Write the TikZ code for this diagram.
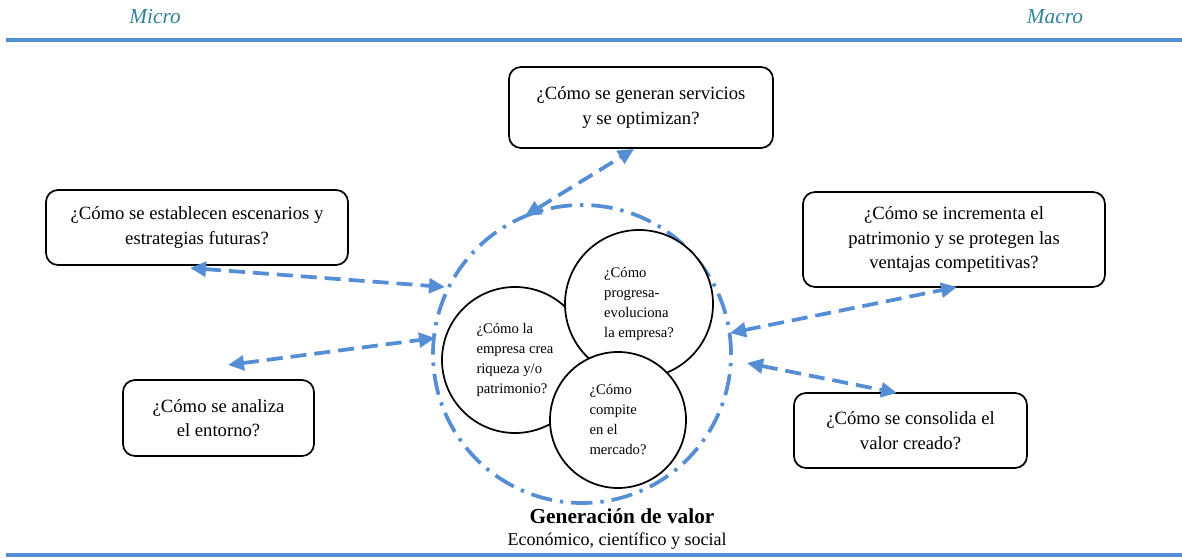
\documentclass[tikz,border=0pt]{standalone}
\usepackage{fontspec}
\setmainfont{Liberation Serif}
\usetikzlibrary{arrows.meta}
\definecolor{lineblue}{RGB}{85,142,213}
\definecolor{microteal}{RGB}{49,132,155}
\begin{document}
\begin{tikzpicture}[x=0.75pt,y=-0.75pt,
  qbox/.style={draw,line width=1.3pt,rounded corners=9pt,align=center,
    font=\fontsize{14}{18.5}\selectfont,inner sep=0pt},
  qcirc/.style={draw,circle,fill=white,line width=1.3pt,align=left,
    font=\fontsize{11}{15}\selectfont,inner sep=0pt},
  conn/.style={draw=lineblue,line width=2.8pt,dash pattern=on 12pt off 6pt,
    {Triangle[length=12pt,width=11pt]}-{Triangle[length=12pt,width=11pt]}},
  rule/.style={draw=lineblue,line width=2.6pt},
  scale label/.style={text=microteal,font=\fontsize{16}{19}\selectfont\itshape}]
\useasboundingbox (0,0) rectangle (1182,559);

% header
\node[scale label] (micro) at (155,17) {Micro};
\node[scale label] (macro) at (1055,17) {Macro};
\coordinate (tl) at (6,40);
\coordinate (tr) at (1182,40);
\draw[rule] (tl) -- (tr);
\coordinate (bl) at (6,555);
\coordinate (br) at (1182,555);
\draw[rule] (bl) -- (br);

% outer dash-dot circle
\node[draw=lineblue,circle,line width=2.8pt,minimum size=223.5pt,
  dash pattern=on 16pt off 6pt on 2.5pt off 6pt] (outer) at (582,354) {};

% inner circles
\node[qcirc,minimum size=109.5pt] (c1) at (515,360)
  {¿Cómo la\\empresa crea\\riqueza y/o\\patrimonio?};
\node[qcirc,minimum size=111pt] (c2) at (639,304)
  {¿Cómo\\progresa-\\evoluciona\\la empresa?};
\node[qcirc,minimum size=102pt] (c3) at (618,420)
  {¿Cómo\\compite\\en el\\mercado?};

% question boxes
\node[qbox,minimum width=198pt,minimum height=60.75pt] (top) at (641,107.5)
  {¿Cómo se generan servicios\\y se optimizan?};
\node[qbox,minimum width=226.5pt,minimum height=56.25pt] (lt) at (197,227.5)
  {¿Cómo se establecen escenarios y\\estrategias futuras?};
\node[qbox,minimum width=143.25pt,minimum height=57pt] (lb) at (218.5,418)
  {¿Cómo se analiza\\el entorno?};
\node[qbox,minimum width=226.5pt,minimum height=71.25pt] (rt) at (954,239.5)
  {¿Cómo se incrementa el\\patrimonio y se protegen las\\ventajas competitivas?};
\node[qbox,minimum width=174.75pt,minimum height=56.25pt] (rb) at (910.5,430.5)
  {¿Cómo se consolida el\\valor creado?};

% connector end points
\coordinate (topE) at (634,149);
\coordinate (topC) at (525,216);
\coordinate (ltE) at (190,268);
\coordinate (ltC) at (445,287);
\coordinate (lbE) at (228,365);
\coordinate (lbC) at (435,338);
\coordinate (rtE) at (957,287);
\coordinate (rtC) at (730,333);
\coordinate (rbC) at (747,363);
\coordinate (rbE) at (897,393);

\draw[conn] (topC) -- (topE);
\draw[conn] (ltE) -- (ltC);
\draw[conn] (lbE) -- (lbC);
\draw[conn] (rtC) -- (rtE);
\draw[conn] (rbC) -- (rbE);

% caption
\node[font=\fontsize{16}{19}\selectfont\bfseries] (gen) at (622,516) {Generación de valor};
\node[font=\fontsize{13.5}{16}\selectfont] (eco) at (617,541) {Económico, científico y social};
\end{tikzpicture}
\end{document}
